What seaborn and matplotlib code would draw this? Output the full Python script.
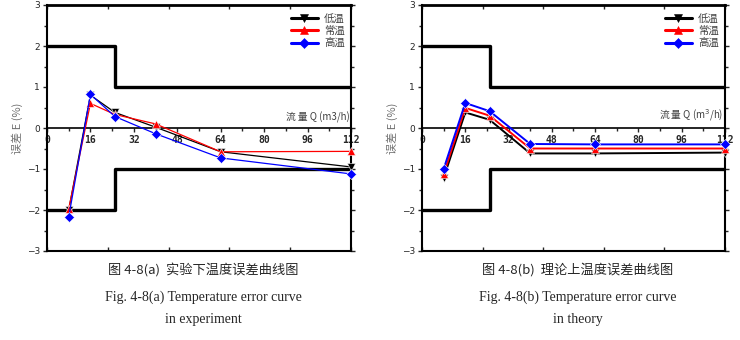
import numpy as np
import pandas as pd
import matplotlib
matplotlib.use("Agg")
import matplotlib.pyplot as plt
from matplotlib.lines import Line2D
import seaborn as sns

sns.set_theme(style="white")
plt.rcParams['font.family'] = ['Noto Sans CJK SC', 'DejaVu Sans']
plt.rcParams['axes.unicode_minus'] = True

# Flow rate sample points (m3/h)
flow = [8, 16, 25, 40, 64, 112]
series_names = ["低温", "常温", "高温"]

# (a) measured error, %
exp_low = [-2.00, 0.80, 0.38, 0.02, -0.58, -0.95]
exp_norm = [-1.97, 0.60, 0.33, 0.10, -0.58, -0.57]
exp_high = [-2.17, 0.82, 0.28, -0.14, -0.73, -1.12]

# (b) theoretical error, %
th_low = [-1.22, 0.38, 0.20, -0.62, -0.62, -0.60]
th_norm = [-1.12, 0.49, 0.30, -0.50, -0.50, -0.50]
th_high = [-1.00, 0.61, 0.41, -0.39, -0.40, -0.40]

# Tolerance band
bound_x = [0, 25, 112]
bound_upper = [2, 1, 1]
bound_lower = [-2, -1, -1]

x_ticks = [0, 16, 32, 48, 64, 80, 96, 112]
y_ticks = [-3, -2, -1, 0, 1, 2, 3]

captions = [
    ("图 4-8(a)  实验下温度误差曲线图", "Fig. 4-8(a) Temperature error curve", "in experiment"),
    ("图 4-8(b)  理论上温度误差曲线图", "Fig. 4-8(b) Temperature error curve", "in theory"),
]

palette = {"低温": "#000000", "常温": "#ff0000", "高温": "#0000ff"}
markers = {"低温": "v", "常温": "^", "高温": "D"}


def make_frame(low, norm, high):
    rows = []
    for name, vals in zip(series_names, [low, norm, high]):
        for q, e in zip(flow, vals):
            rows.append({"Q": q, "E": e, "series": name})
    return pd.DataFrame(rows)


fig = plt.figure(figsize=(7.4, 3.4), dpi=100)
W, H = 740, 340
axes_px = [(47, 304), (422, 303)]

panels = [
    (make_frame(exp_low, exp_norm, exp_high), 0.9, "流 量 Q (m3/h)"),
    (make_frame(th_low, th_norm, th_high), 1.4, "流 量 Q (m$^3$/h)"),
]

for i, ((left, width), (df, lw, xlab), cap) in enumerate(zip(axes_px, panels, captions)):
    ax = fig.add_axes([left / W, (H - 251) / H, width / W, 246 / H])
    ax.set_facecolor("white")
    # tolerance band
    ax.plot(bound_x, bound_upper, drawstyle="steps-post", color="black", lw=2.4,
            solid_capstyle="butt")
    ax.plot(bound_x, bound_lower, drawstyle="steps-post", color="black", lw=2.4,
            solid_capstyle="butt")
    # zero line
    ax.axhline(0, color="black", lw=1.2, zorder=2)
    sns.lineplot(data=df, x="Q", y="E", hue="series", style="series",
                 palette=palette, markers=markers, dashes=False, lw=lw,
                 markersize=5.5, markeredgewidth=0.4, ax=ax, legend=False,
                 clip_on=False, zorder=5)
    ax.set_xlim(0, 112)
    ax.set_ylim(-3, 3)
    ax.set_xlabel("")
    ax.set_ylabel("误差 E (%)", color="#707070", fontsize=8, labelpad=3)
    for side in ["left", "right", "top", "bottom"]:
        ax.spines[side].set_visible(True)
        ax.spines[side].set_color("black")
    ax.spines["top"].set_linewidth(2.0)
    ax.spines["left"].set_linewidth(1.5)
    ax.spines["right"].set_linewidth(1.5)
    ax.spines["bottom"].set_linewidth(1.5)
    ax.set_yticks(y_ticks)
    ax.set_yticklabels([f"{v}".replace("-", "\u2212") for v in y_ticks],
                       family="DejaVu Sans", fontsize=6.5)
    ax.set_yticks(np.arange(-2.5, 3, 1.0), minor=True)
    ax.tick_params(axis="y", which="major", direction="out", length=3, width=1,
                   left=True, right=True, pad=2)
    ax.tick_params(axis="y", which="minor", direction="out", length=2, width=1,
                   left=True, right=True)
    ax.set_xticks(np.arange(0, 112.1, 22.4))
    ax.set_xticklabels([])
    ax.tick_params(axis="x", which="major", direction="in", length=3, width=1,
                   bottom=True, top=True)

    # flow ticks along the zero line
    sec = ax.secondary_xaxis(0.5)
    sec.xaxis.set_ticks_position("bottom")
    sec.xaxis.set_label_position("bottom")
    for s in sec.spines.values():
        s.set_visible(False)
    sec.set_xticks(x_ticks)
    sec.set_xticklabels([str(v) for v in x_ticks], family="DejaVu Sans Mono",
                        fontsize=7, fontweight="bold")
    sec.set_xticks(np.arange(8, 112, 16), minor=True)
    sec.tick_params(axis="x", which="major", direction="out", length=3, width=1, pad=2,
                    bottom=True, top=False, labelbottom=True, labeltop=False)
    sec.tick_params(axis="x", which="minor", direction="out", length=2, width=1,
                    bottom=True, top=False)

    ax.text(0.995, 0.52, xlab, transform=ax.transAxes, ha="right", va="bottom",
            fontsize=7, color="#404040")

    # legend
    handles = [Line2D([], [], color=palette[n], marker=markers[n], lw=2.2,
                      markersize=5.5, markeredgewidth=0.4) for n in series_names]
    ax.legend(handles, series_names, loc="upper right", frameon=False, fontsize=7.5,
              handlelength=2.6, handletextpad=0.6, labelspacing=0.2,
              borderaxespad=0.2, bbox_to_anchor=(1.0, 0.99), labelcolor="#404040")

    cx = (left + width / 2 + 4) / W
    fig.text(cx, 1 - 270 / H, cap[0], ha="center", va="center", fontsize=9.5,
             family=["Noto Sans CJK SC", "DejaVu Sans"])
    fig.text(cx, 1 - 297 / H, cap[1], ha="center", va="center", fontsize=10,
             family="Liberation Serif")
    fig.text(cx, 1 - 320 / H, cap[2], ha="center", va="center", fontsize=10,
             family="Liberation Serif")

fig.savefig("out.png", dpi=100)
